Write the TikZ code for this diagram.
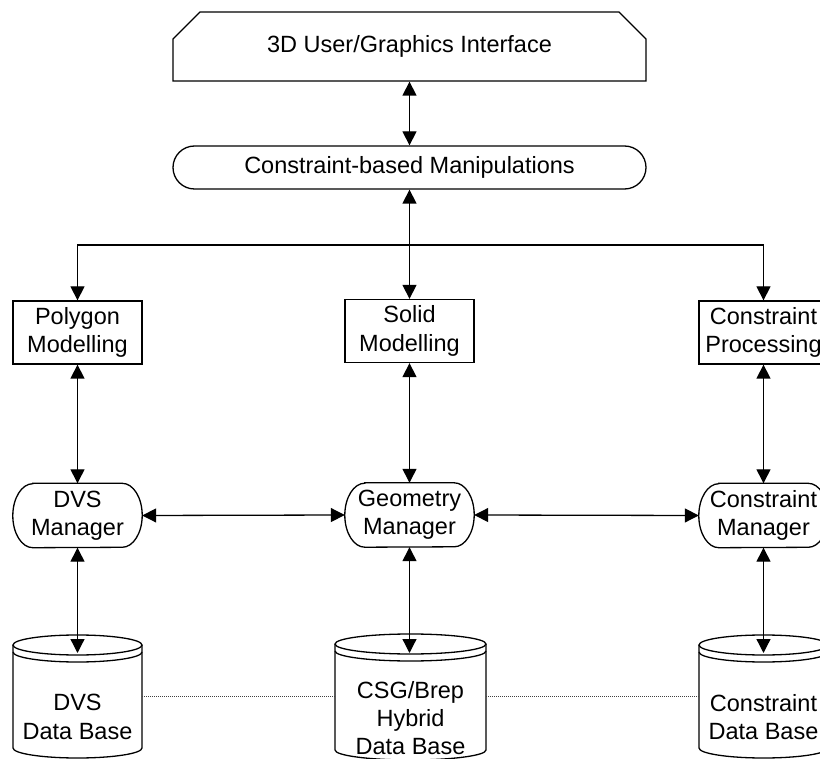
\documentclass[tikz,border=0pt]{standalone}
\usepackage{fontspec}
\setmainfont{Liberation Sans}
\usetikzlibrary{arrows.meta,shapes.misc}
\newcommand\diagfont{\fontsize{23.5}{28.2}\selectfont}
\newcommand\dbcyl[4]{% cx, halfwidth, top centre y, bottom centre y
  \fill[white] (#1-#2,#3) -- (#1-#2,#4) arc[start angle=180,end angle=360,x radius=#2pt,y radius=10pt] -- (#1+#2,#3) -- cycle;
  \draw[shapeline] (#1-#2,#3) -- (#1-#2,#4) arc[start angle=180,end angle=360,x radius=#2pt,y radius=10pt] -- (#1+#2,#3);
  \draw[shapeline,fill=white] (#1,#3) ellipse[x radius=#2pt,y radius=10pt];
  \draw[shapeline] (#1-#2,#3+7) arc[start angle=180,end angle=360,x radius=#2pt,y radius=10pt];
}
\newcommand\mgroutline[1]{% elliptic-ended outline around node #1
  \draw[shapeline] ([xshift=20pt]#1.north west) -- ([xshift=-20pt]#1.north east)
    arc[start angle=90,end angle=-90,x radius=20pt,y radius=32pt]
    -- ([xshift=20pt]#1.south west)
    arc[start angle=270,end angle=90,x radius=20pt,y radius=32pt] -- cycle;
}
\tikzset{
  shapeline/.style={line width=1.3pt},
  lbl/.style={font=\diagfont, align=center, inner sep=0pt},
  chamf/.style={lbl, draw, shapeline, chamfered rectangle, chamfered rectangle corners={north west,north east}, chamfered rectangle xsep=17pt, chamfered rectangle ysep=16pt, minimum width=473pt, minimum height=69pt},
  pill/.style={lbl, draw, shapeline, rounded rectangle, minimum width=473pt, minimum height=43pt},
  procbox/.style={lbl, draw, shapeline, rectangle, minimum width=129pt, minimum height=63pt, fill=white},
  mgr/.style={lbl, rectangle, minimum width=129pt, minimum height=64pt},
  dbarea/.style={rectangle, inner sep=0pt, minimum height=103pt},
  biarr/.style={line width=1.3pt, {Triangle[width=14pt,length=14pt]}-{Triangle[width=14pt,length=14pt]}},
  toarr/.style={line width=1.3pt, -{Triangle[width=14pt,length=14pt]}},
  dotline/.style={line width=0.8pt, black!75, dash pattern=on 1pt off 1pt},
}
\begin{document}
\begin{tikzpicture}[x=1pt,y=-1pt]
\useasboundingbox (0,0) rectangle (820,759);
\fill[white] (0,0) rectangle (820,759);
\clip (0,0) rectangle (820,759);

% top
\node[chamf] (ui) at (409.5,46.5) {3D User/Graphics Interface};
\node[pill] (cbm) at (409.5,167.5) {Constraint-based Manipulations};

% modelling boxes
\node[procbox] (poly) at (77.5,332.5) {Polygon\\Modelling};
\node[procbox] (solid) at (409.5,331) {Solid\\Modelling};
\node[procbox] (cproc) at (763.5,332.5) {Constraint\\Processing};

% managers
\node[mgr] (dvsm) at (77.5,515.5) {DVS\\Manager};
\node[mgr] (geom) at (409.5,515) {Geometry\\Manager};
\node[mgr] (conm) at (763.5,515.5) {Constraint\\Manager};
\mgroutline{dvsm}
\mgroutline{geom}
\mgroutline{conm}

% databases
\dbcyl{77.5}{64.5}{645}{748}
\dbcyl{410.5}{75.5}{644}{750}
\dbcyl{763.5}{64.5}{645}{748}
\node[dbarea, minimum width=129pt] (dvsdb) at (77.5,696.5) {};
\node[dbarea, minimum width=151pt] (csgdb) at (410.5,696.5) {};
\node[dbarea, minimum width=129pt] (condb) at (763.5,696.5) {};
\node[lbl] (dvsdbtext) at (77.5,717) {DVS\\Data Base};
\node[lbl] (csgdbtext) at (410.5,718) {CSG/Brep\\Hybrid\\Data Base};
\node[lbl] (condbtext) at (763.5,717) {Constraint\\Data Base};
\coordinate (dvsdbtop) at (77.5,653);
\coordinate (csgdbtop) at (409.5,653);
\coordinate (condbtop) at (763.5,653);

% connectors
\coordinate (j) at (409.5,245);
\draw[biarr] (ui.south) -- (cbm.north);
\draw[biarr] (cbm.south) -- (solid.north);
\draw[toarr] (j) -| (poly.north);
\draw[toarr] (j) -| (cproc.north);

\draw[biarr] (poly.south) -- (dvsm.north);
\draw[biarr] (solid.south) -- (geom.north);
\draw[biarr] (cproc.south) -- (conm.north);

\draw[biarr] (dvsm.east) -- (geom.west);
\draw[biarr] (geom.east) -- (conm.west);

\draw[biarr] (dvsm.south) -- (dvsdbtop);
\draw[biarr] (geom.south) -- (csgdbtop);
\draw[biarr] (conm.south) -- (condbtop);

\draw[dotline] (dvsdb.east) -- (csgdb.west);
\draw[dotline] (csgdb.east) -- (condb.west);
\end{tikzpicture}
\end{document}
